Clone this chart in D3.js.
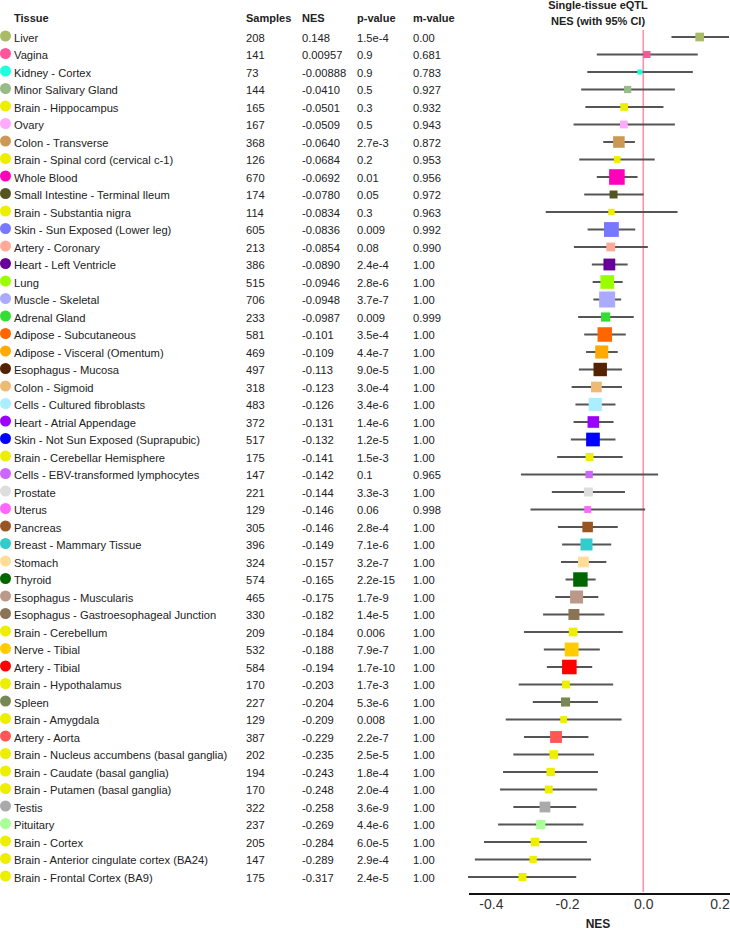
<!DOCTYPE html>
<html><head><meta charset="utf-8">
<script src="https://cdn.jsdelivr.net/npm/d3@7"></script>
<style>body{margin:0;background:#fff}svg{display:block;font-family:"Liberation Sans",Arial,sans-serif}</style>
</head><body><svg id="c" width="730" height="931"></svg>
<script>
const tissues = ["Liver","Vagina","Kidney - Cortex","Minor Salivary Gland","Brain - Hippocampus","Ovary","Colon - Transverse","Brain - Spinal cord (cervical c-1)","Whole Blood","Small Intestine - Terminal Ileum","Brain - Substantia nigra","Skin - Sun Exposed (Lower leg)","Artery - Coronary","Heart - Left Ventricle","Lung","Muscle - Skeletal","Adrenal Gland","Adipose - Subcutaneous","Adipose - Visceral (Omentum)","Esophagus - Mucosa","Colon - Sigmoid","Cells - Cultured fibroblasts","Heart - Atrial Appendage","Skin - Not Sun Exposed (Suprapubic)","Brain - Cerebellar Hemisphere","Cells - EBV-transformed lymphocytes","Prostate","Uterus","Pancreas","Breast - Mammary Tissue","Stomach","Thyroid","Esophagus - Muscularis","Esophagus - Gastroesophageal Junction","Brain - Cerebellum","Nerve - Tibial","Artery - Tibial","Brain - Hypothalamus","Spleen","Brain - Amygdala","Artery - Aorta","Brain - Nucleus accumbens (basal ganglia)","Brain - Caudate (basal ganglia)","Brain - Putamen (basal ganglia)","Testis","Pituitary","Brain - Cortex","Brain - Anterior cingulate cortex (BA24)","Brain - Frontal Cortex (BA9)"];
const colors = ["#AABB66","#FF5599","#22FFDD","#99BB88","#EEEE00","#FFAAFF","#CC9955","#EEEE00","#FF00BB","#555522","#EEEE00","#7777FF","#FFAA99","#660099","#99FF00","#AAAAFF","#33DD33","#FF6600","#FFAA00","#552200","#EEBB77","#AAEEFF","#9900FF","#0000FF","#EEEE00","#CC66FF","#DDDDDD","#FF66FF","#995522","#33CCCC","#FFDD99","#006600","#BB9988","#8B7355","#EEEE00","#FFCC00","#FF0000","#EEEE00","#778855","#EEEE00","#FF5555","#EEEE00","#EEEE00","#EEEE00","#AAAAAA","#AAFF99","#EEEE00","#EEEE00","#EEEE00"];
const samples = [208,141,73,144,165,167,368,126,670,174,114,605,213,386,515,706,233,581,469,497,318,483,372,517,175,147,221,129,305,396,324,574,465,330,209,532,584,170,227,129,387,202,194,170,322,237,205,147,175];
const nes = [0.148,0.00957,-0.00888,-0.0410,-0.0501,-0.0509,-0.0640,-0.0684,-0.0692,-0.0780,-0.0834,-0.0836,-0.0854,-0.0890,-0.0946,-0.0948,-0.0987,-0.101,-0.109,-0.113,-0.123,-0.126,-0.131,-0.132,-0.141,-0.142,-0.144,-0.146,-0.146,-0.149,-0.157,-0.165,-0.175,-0.182,-0.184,-0.188,-0.194,-0.203,-0.204,-0.209,-0.229,-0.235,-0.243,-0.248,-0.258,-0.269,-0.284,-0.289,-0.317];
const nesText = ["0.148","0.00957","-0.00888","-0.0410","-0.0501","-0.0509","-0.0640","-0.0684","-0.0692","-0.0780","-0.0834","-0.0836","-0.0854","-0.0890","-0.0946","-0.0948","-0.0987","-0.101","-0.109","-0.113","-0.123","-0.126","-0.131","-0.132","-0.141","-0.142","-0.144","-0.146","-0.146","-0.149","-0.157","-0.165","-0.175","-0.182","-0.184","-0.188","-0.194","-0.203","-0.204","-0.209","-0.229","-0.235","-0.243","-0.248","-0.258","-0.269","-0.284","-0.289","-0.317"];
const pvalues = ["1.5e-4","0.9","0.9","0.5","0.3","0.5","2.7e-3","0.2","0.01","0.05","0.3","0.009","0.08","2.4e-4","2.8e-6","3.7e-7","0.009","3.5e-4","4.4e-7","9.0e-5","3.0e-4","3.4e-6","1.4e-6","1.2e-5","1.5e-3","0.1","3.3e-3","0.06","2.8e-4","7.1e-6","3.2e-7","2.2e-15","1.7e-9","1.4e-5","0.006","7.9e-7","1.7e-10","1.7e-3","5.3e-6","0.008","2.2e-7","2.5e-5","1.8e-4","2.0e-4","3.6e-9","4.4e-6","6.0e-5","2.9e-4","2.4e-5"];
const mvalues = ["0.00","0.681","0.783","0.927","0.932","0.943","0.872","0.953","0.956","0.972","0.963","0.992","0.990","1.00","1.00","1.00","0.999","1.00","1.00","1.00","1.00","1.00","1.00","1.00","1.00","0.965","1.00","0.998","1.00","1.00","1.00","1.00","1.00","1.00","1.00","1.00","1.00","1.00","1.00","1.00","1.00","1.00","1.00","1.00","1.00","1.00","1.00","1.00","1.00"];
const ciLow = [0.074,-0.122,-0.147,-0.163,-0.152,-0.183,-0.105,-0.168,-0.122,-0.155,-0.256,-0.146,-0.182,-0.135,-0.133,-0.131,-0.171,-0.155,-0.150,-0.169,-0.188,-0.178,-0.183,-0.190,-0.226,-0.321,-0.240,-0.296,-0.224,-0.213,-0.216,-0.204,-0.231,-0.263,-0.313,-0.261,-0.253,-0.327,-0.290,-0.361,-0.313,-0.341,-0.368,-0.376,-0.341,-0.381,-0.418,-0.442,-0.460];
const ciHigh = [0.225,0.143,0.130,0.083,0.053,0.083,-0.022,0.030,-0.015,0.001,0.090,-0.021,0.012,-0.041,-0.054,-0.058,-0.025,-0.046,-0.067,-0.056,-0.056,-0.073,-0.078,-0.073,-0.054,0.039,-0.048,0.005,-0.067,-0.084,-0.097,-0.125,-0.118,-0.102,-0.054,-0.114,-0.134,-0.079,-0.119,-0.057,-0.144,-0.129,-0.119,-0.121,-0.176,-0.157,-0.148,-0.137,-0.176];
const xTicks = [-0.4,-0.2,0.0,0.2];

const svg = d3.select("#c");
const y = d3.scalePoint().domain(tissues).range([37,877]);
const x = d3.scaleLinear().domain([-0.46,0.225]).range([468,729]);
const s = d3.scaleSqrt().domain([0,706]).range([0,16]);
const rows = tissues.map((t,i)=>({t,i}));
const fs = "11.2px";

// headers
const hdr = [["Tissue",14],["Samples",246],["NES",302],["p-value",357],["m-value",413]];
svg.selectAll("text.h").data(hdr).join("text").attr("x",d=>d[1]).attr("y",22)
  .attr("font-size","11px").attr("font-weight","bold").attr("fill","#222").text(d=>d[0]);
svg.append("text").attr("x",598).attr("y",9).attr("text-anchor","middle").attr("font-size","11px").attr("font-weight","bold").attr("fill","#222").text("Single-tissue eQTL");
svg.append("text").attr("x",598).attr("y",25).attr("text-anchor","middle").attr("font-size","11px").attr("font-weight","bold").attr("fill","#222").text("NES (with 95% CI)");

// table rows
const g = svg.append("g");
g.selectAll("circle").data(rows).join("circle").attr("cx",5.5).attr("cy",d=>y(d.t)-1).attr("r",5.5).attr("fill",d=>colors[d.i]);
const cols = [[d=>d.t,14],[d=>samples[d.i],246],[d=>nesText[d.i],302],[d=>pvalues[d.i],357],[d=>mvalues[d.i],413]];
cols.forEach(([f,cx])=>{
  g.selectAll(null).data(rows).join("text").attr("x",cx).attr("y",d=>y(d.t)+4.5)
   .attr("font-size",fs).attr("fill","#222").text(f);
});

// zero line
svg.append("line").attr("x1",x(0)).attr("x2",x(0)).attr("y1",30).attr("y2",892).attr("stroke","#ff8fab").attr("stroke-width",1.6);

// CI lines
svg.selectAll("line.ci").data(rows).join("line").attr("class","ci")
  .attr("x1",d=>x(ciLow[d.i])).attr("x2",d=>x(ciHigh[d.i])).attr("y1",d=>y(d.t)).attr("y2",d=>y(d.t))
  .attr("stroke","#555").attr("stroke-width",2);
// squares
svg.selectAll("rect.sq").data(rows).join("rect").attr("class","sq")
  .attr("x",d=>x(nes[d.i])-s(samples[d.i])/2).attr("y",d=>y(d.t)-s(samples[d.i])/2)
  .attr("width",d=>s(samples[d.i])).attr("height",d=>s(samples[d.i])).attr("fill",d=>colors[d.i]);

// axis
const ax = svg.append("g").attr("transform","translate(0,894)")
  .call(d3.axisBottom(x).tickValues(xTicks).tickSize(0).tickPadding(5).tickFormat(d=>d3.format(".1f")(d).replace("−","-")));
ax.select(".domain").attr("stroke","#111").attr("stroke-width",2).attr("d","M469,0H730");
ax.selectAll("text").attr("font-size","14px").attr("fill","#333").attr("font-family","Liberation Sans, Arial, sans-serif");
svg.append("text").attr("x",598).attr("y",928).attr("text-anchor","middle").attr("font-size","12px").attr("font-weight","bold").attr("fill","#222").text("NES");
</script></body></html>
